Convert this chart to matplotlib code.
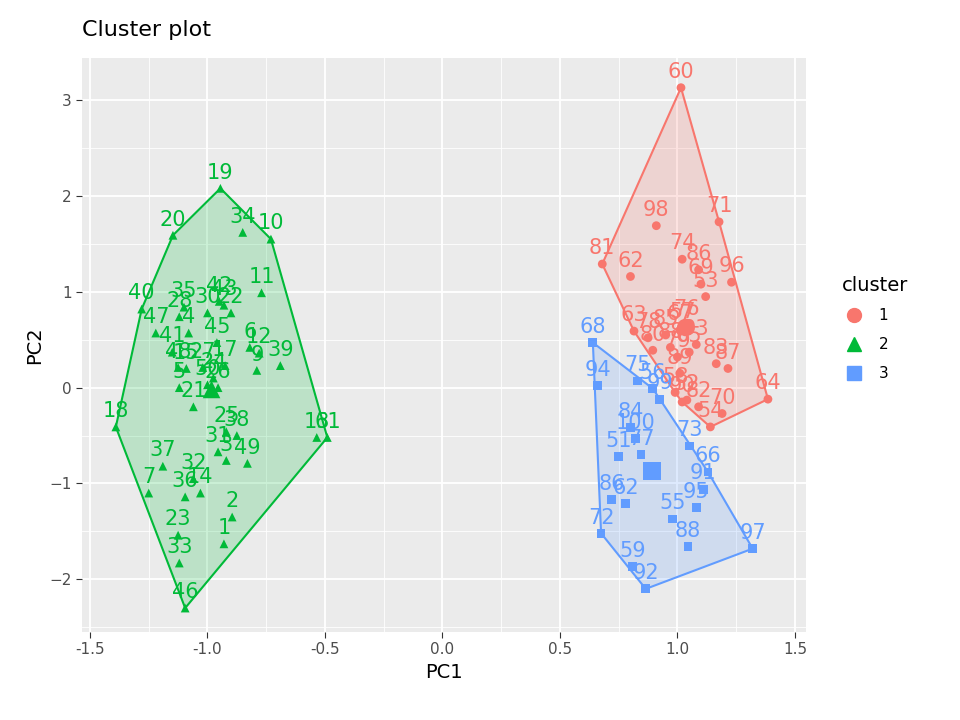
import matplotlib.pyplot as plt
import numpy as np
from matplotlib.lines import Line2D
from matplotlib.patches import Polygon

# Cluster 1 (red, circles)
c1_x = [1.015, 1.177, 0.91, 0.68, 0.80, 1.02, 1.09, 1.10, 1.23, 1.12, 0.815, 1.02, 1.01, 1.04,
        0.95, 0.875, 1.08, 1.05, 0.97, 1.00, 1.165, 1.215, 1.01, 1.385, 0.99, 1.04, 1.02, 1.09,
        1.19, 1.14, 0.895]
c1_y = [3.13, 1.73, 1.69, 1.29, 1.16, 1.34, 1.23, 1.08, 1.10, 0.95, 0.59, 0.63, 0.60, 0.66,
        0.55, 0.52, 0.45, 0.37, 0.42, 0.32, 0.25, 0.20, 0.15, -0.12, -0.05, -0.13, -0.15, -0.20,
        -0.27, -0.41, 0.39]
c1_lab = ['60', '71', '98', '81', '62', '74', '86', '69', '96', '53', '63', '57', '67', '76',
          '85', '78', '93', '65', '88', '79', '83', '87', '89', '64', '58', '52', '90', '82',
          '70', '54', '80']

# Cluster 2 (green, triangles)
c2_x = [-0.945, -1.147, -0.85, -0.73, -1.28, -0.77, -1.22, -1.0, -0.9, -0.95, -0.93, -1.12,
        -1.10, -1.08, -1.15, -0.96, -0.82, -0.78, -0.69, -0.79, -0.925, -1.02, -1.09, -1.125,
        -0.975, -1.0, -0.955, -1.12, -1.06, -1.39, -0.535, -0.49, -0.92, -0.875, -0.955, -0.92,
        -0.83, -1.19, -1.25, -1.06, -1.03, -1.095, -0.895, -0.93, -1.125, -1.12, -1.095]
c2_y = [2.08, 1.59, 1.62, 1.55, 0.82, 0.99, 0.57, 0.78, 0.78, 0.90, 0.86, 0.74, 0.84, 0.57,
        0.37, 0.47, 0.42, 0.36, 0.23, 0.18, 0.23, 0.21, 0.20, 0.21, 0.10, 0.03, 0.0, 0.0, -0.2,
        -0.41, -0.52, -0.52, -0.46, -0.50, -0.67, -0.76, -0.79, -0.82, -1.10, -0.95, -1.10,
        -1.14, -1.35, -1.63, -1.54, -1.83, -2.30]
c2_lab = ['19', '20', '34', '10', '40', '11', '47', '30', '22', '42', '43', '28', '35', '4',
          '41', '45', '6', '12', '39', '9', '17', '27', '15', '48', '24', '50', '26', '5',
          '21', '18', '13', '61', '25', '38', '31', '3', '49', '37', '7', '32', '14', '36',
          '2', '1', '23', '33', '46']

# Cluster 3 (blue, squares)
c3_x = [0.64, 0.66, 0.83, 0.895, 0.925, 0.80, 0.82, 1.05, 0.75, 0.845, 1.13, 1.11, 0.72,
        0.78, 1.08, 0.98, 0.675, 1.045, 1.32, 0.81, 0.865]
c3_y = [0.47, 0.02, 0.07, -0.01, -0.12, -0.42, -0.53, -0.61, -0.72, -0.70, -0.88, -1.06,
        -1.17, -1.21, -1.25, -1.37, -1.52, -1.66, -1.68, -1.87, -2.10]
c3_lab = ['68', '94', '75', '56', '99', '84', '100', '73', '51', '77', '66', '91', '86',
          '62', '95', '55', '72', '88', '97', '59', '92']

COLORS = ['#F8766D', '#00BA38', '#619CFF']
MARKERS = ['o', '^', 's']


def convex_hull(xs, ys):
    """Monotone chain convex hull."""
    pts = sorted(set(zip(xs, ys)))

    def cross(o, a, b):
        return (a[0] - o[0]) * (b[1] - o[1]) - (a[1] - o[1]) * (b[0] - o[0])

    lower, upper = [], []
    for p in pts:
        while len(lower) >= 2 and cross(lower[-2], lower[-1], p) <= 0:
            lower.pop()
        lower.append(p)
    for p in reversed(pts):
        while len(upper) >= 2 and cross(upper[-2], upper[-1], p) <= 0:
            upper.pop()
        upper.append(p)
    return lower[:-1] + upper[:-1]


fig = plt.figure(figsize=(9.6, 7.2), dpi=100)
ax = fig.add_axes([82 / 960, 1 - 632 / 720, (806 - 82) / 960, (632 - 58) / 720])
ax.set_facecolor('#EBEBEB')
ax.set_xlim(-1.534, 1.547)
ax.set_ylim(-2.55, 3.44)
ax.set_xticks([-1.5, -1.0, -0.5, 0.0, 0.5, 1.0, 1.5])
ax.set_xticklabels(['-1.5', '-1.0', '-0.5', '0.0', '0.5', '1.0', '1.5'])
ax.set_yticks([-2, -1, 0, 1, 2, 3])
ax.set_xticks(np.arange(-1.25, 1.5, 0.5), minor=True)
ax.set_yticks(np.arange(-2.5, 3.5, 1.0), minor=True)
ax.grid(which='major', color='white', lw=1.3)
ax.grid(which='minor', color='white', lw=0.6)
ax.set_axisbelow(True)
for s in ax.spines.values():
    s.set_visible(False)
ax.tick_params(which='major', length=4, color='#333333', labelsize=11, labelcolor='#4D4D4D')
ax.tick_params(which='minor', length=0)

clusters = [(c1_x, c1_y, c1_lab), (c2_x, c2_y, c2_lab), (c3_x, c3_y, c3_lab)]
for (xs, ys, labs), col, mk in zip(clusters, COLORS, MARKERS):
    hull = convex_hull(xs, ys)
    ax.add_patch(Polygon(hull, closed=True, facecolor=col, alpha=0.2, edgecolor='none'))
    ax.add_patch(Polygon(hull, closed=True, facecolor='none', edgecolor=col, lw=1.5))
    ax.scatter(xs, ys, marker=mk, s=40, color=col, zorder=3, edgecolors='none')
    for x, y, t in zip(xs, ys, labs):
        ax.text(x, y + 0.06, t, color=col, fontsize=15, ha='center', va='bottom', zorder=4)
    ax.scatter([np.mean(xs)], [np.mean(ys)], marker=mk, s=160, color=col, zorder=3,
               edgecolors='none')

ax.set_xlabel('PC1', fontsize=14)
ax.set_ylabel('PC2', fontsize=14)
fig.text(82 / 960, 1 - 30 / 720, 'Cluster plot', fontsize=16, va='center')

handles = [Line2D([0], [0], marker=mk, color=col, markerfacecolor=col, markersize=10,
                  lw=0) for col, mk in zip(COLORS, MARKERS)]
leg = fig.legend(handles, ['1', '2', '3'], title='cluster', loc='upper left',
                 bbox_to_anchor=(828 / 960, 1 - 262 / 720), frameon=False, fontsize=11,
                 title_fontsize=14, handlelength=1.6, labelspacing=0.9)
leg._legend_box.align = 'left'

fig.savefig('out.png')
